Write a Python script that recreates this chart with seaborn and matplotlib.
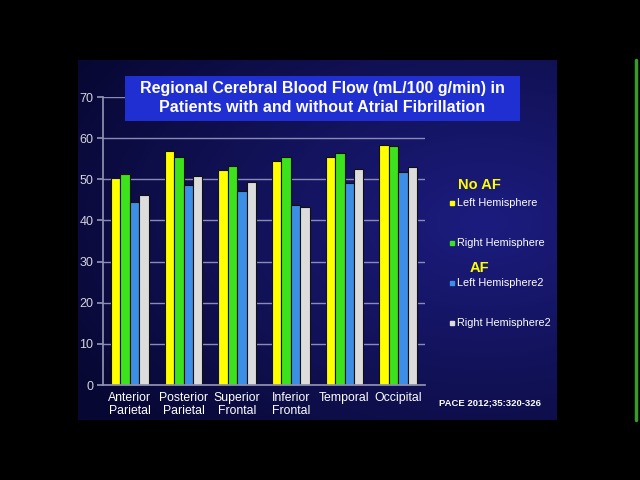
import numpy as np
import pandas as pd
import matplotlib
matplotlib.use("Agg")
import matplotlib.pyplot as plt
from matplotlib.patches import Rectangle
from matplotlib.lines import Line2D
import seaborn as sns

# ---- data ----
regions = ["Anterior\nParietal", "Posterior\nParietal", "Superior\nFrontal",
           "Inferior\nFrontal", "Temporal", "Occipital"]
series = ["Left Hemisphere", "Right Hemisphere", "Left Hemisphere2", "Right Hemisphere2"]
no_af_left = [50.2, 56.9, 52.2, 54.5, 55.3, 58.4]
no_af_right = [51.2, 55.3, 53.3, 55.3, 56.4, 58.0]
af_left = [44.6, 48.5, 47.2, 43.7, 49.1, 51.7]
af_right = [46.3, 50.9, 49.4, 43.2, 52.4, 53.0]
yticks = [0, 10, 20, 30, 40, 50, 60, 70]
colors = ["#ffff00", "#3ce21c", "#3d8fe6", "#dcdcdc"]

rows = []
for s, vals in zip(series, [no_af_left, no_af_right, af_left, af_right]):
    for r, v in zip(regions, vals):
        rows.append({"region": r, "series": s, "value": v})
df = pd.DataFrame(rows)

sns.set_theme(style="dark")
plt.rcParams['font.family'] = ['Liberation Sans', 'DejaVu Sans']

fig = plt.figure(figsize=(6.4, 4.8), dpi=100)
fig.patch.set_facecolor("black")

# slide background with gradient
W, H = 640, 480
sx0, sx1, sy0, sy1 = 78, 557, 60, 420
bg = fig.add_axes([sx0 / W, 1 - sy1 / H, (sx1 - sx0) / W, (sy1 - sy0) / H])
ny, nx = 200, 200
yy, xx = np.mgrid[0:1:ny * 1j, 0:1:nx * 1j]
d = np.sqrt(((xx - 0.85) * 1.0) ** 2 + ((yy - 0.45) * 1.2) ** 2)
t = np.clip(1 - d / 1.0, 0, 1)
c_dark = np.array([0.03, 0.03, 0.20])
c_light = np.array([0.11, 0.11, 0.50])
img = c_dark[None, None, :] + (c_light - c_dark)[None, None, :] * t[..., None]
bg.imshow(img, aspect="auto", extent=[0, 1, 0, 1], origin="upper")
bg.set_axis_off()

# main axes
ax = fig.add_axes([103 / W, 1 - 385 / H, (425 - 103) / W, (385 - 97) / H])
ax.set_facecolor("none")
sns.barplot(data=df, x="region", y="value", hue="series", palette=colors,
            width=0.7, edgecolor="#101010", linewidth=0.8, ax=ax, legend=False,
            saturation=1)
ax.set_ylim(0, 70)
ax.set_xlim(-0.5, 5.5)
ax.set_yticks(yticks)
ax.set_yticklabels([str(v) for v in yticks], color="#d4d4dc", fontsize=9)
ax.set_xlabel("")
ax.set_ylabel("")
ax.tick_params(axis="x", colors="white", labelsize=8.8, length=0, pad=5)
ax.tick_params(axis="y", left=True, direction="out", length=4, color="#9090b0", pad=3)
for lab in ax.get_xticklabels():
    lab.set_linespacing(1.15)
ax.grid(axis="y", color="#8a8ab8", linewidth=1.0)
ax.grid(axis="x", visible=False)
ax.set_axisbelow(True)
for side in ["top", "right"]:
    ax.spines[side].set_visible(False)
ax.spines["left"].set_color("#9090b0")
ax.spines["bottom"].set_color("#9090b0")

# title box
fig.patches.append(Rectangle((125 / W, 1 - 121 / H), (520 - 125) / W, 45 / H,
                             transform=fig.transFigure, facecolor="#1f2fd2",
                             edgecolor="none", zorder=5))
fig.text(322 / W, 1 - 98 / H,
         "Regional Cerebral Blood Flow (mL/100 g/min) in\nPatients with and without Atrial Fibrillation",
         ha="center", va="center", color="white", fontsize=11.5, fontweight="bold",
         linespacing=1.25, zorder=6)

# legend (manual)
fig.text(479 / W, 1 - 185 / H, "No AF", ha="center", va="center", color="#ffff00",
         fontsize=10.5, fontweight="bold")
fig.text(479 / W, 1 - 268 / H, "AF", ha="center", va="center", color="#ffff00",
         fontsize=10.5, fontweight="bold")
leg_y = [203, 243, 283, 323]
for s, c, y in zip(series, colors, leg_y):
    fig.add_artist(Line2D([452 / W], [1 - y / H], marker="s", markersize=3.2,
                          color=c, linestyle="none", transform=fig.transFigure))
    fig.text(457 / W, 1 - y / H, s, ha="left", va="center", color="white", fontsize=7.8)

# citation
fig.text(490 / W, 1 - 403 / H, "PACE 2012;35:320-326", ha="center", va="center",
         color="white", fontsize=6.8, fontweight="bold")

# right green line
fig.add_artist(Line2D([636 / W, 636 / W], [1 - 60 / H, 1 - 420 / H], color="#3a9a2a",
                      linewidth=2.5, transform=fig.transFigure))

fig.savefig("out.png", dpi=100, facecolor=fig.get_facecolor())
